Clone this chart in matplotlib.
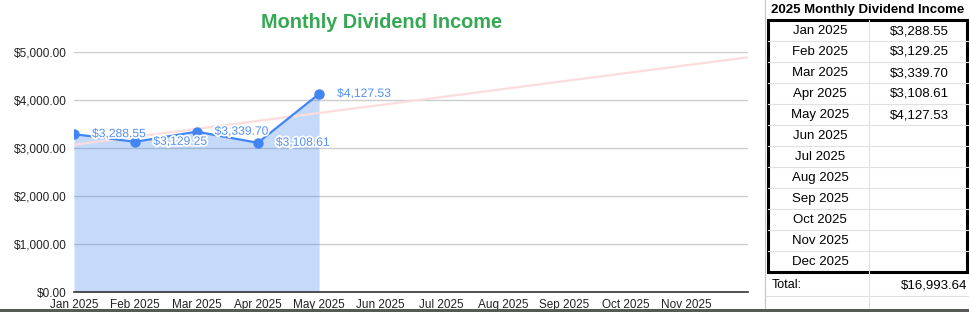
import matplotlib
matplotlib.use("Agg")
import matplotlib.pyplot as plt
import matplotlib.patheffects as pe
from matplotlib.patches import Rectangle
import numpy as np

plt.rcParams['font.family'] = ['Liberation Sans', 'DejaVu Sans']

# data
months = ["Jan 2025", "Feb 2025", "Mar 2025", "Apr 2025", "May 2025", "Jun 2025",
          "Jul 2025", "Aug 2025", "Sep 2025", "Oct 2025", "Nov 2025", "Dec 2025"]
income = [3288.55, 3129.25, 3339.70, 3108.61, 4127.53]
yticks = [0, 1000, 2000, 3000, 4000, 5000]
chart_title = "Monthly Dividend Income"
table_title = "2025 Monthly Dividend Income"

W, H = 970, 312
fig = plt.figure(figsize=(W / 100, H / 100), dpi=100)

# chart
ax = fig.add_axes([74 / W, 1 - 292 / H, (748 - 74) / W, 240 / H])
x = np.arange(len(income))
ax.fill_between(x, income, color='#4285f4', alpha=0.3, lw=0, zorder=2)

# linear trendline over the whole year
k, b = np.polyfit(x, income, 1)
xt = np.array([0, len(months) - 1])
ax.plot(xt, k * xt + b, color='#fcdcdc', lw=1.6, zorder=3)

ax.plot(x, income, color='#4285f4', lw=1.6, marker='o', ms=6.5, zorder=4)
for xi, v in zip(x, income):
    ax.annotate(f"${v:,.2f}", (xi, v), xytext=(13, 0), textcoords='offset points',
                ha='left', va='center', fontsize=8.7, color='#5590f3', zorder=5,
                path_effects=[pe.withStroke(linewidth=2.5, foreground='white')])

ax.set_xlim(0, len(months) - 1)
ax.set_ylim(0, 5000)
ax.set_yticks(yticks)
ax.set_yticklabels([f"${t:,.2f}" for t in yticks])
ax.set_xticks(range(len(months) - 1))
ax.set_xticklabels(months[:-1])
ax.tick_params(axis='y', length=0, pad=5, labelsize=8.5, labelcolor='#222222')
ax.tick_params(axis='x', length=0, pad=5, labelsize=8.5, labelcolor='#222222')
ax.yaxis.grid(True, color='#cccccc', lw=1)
ax.set_axisbelow(True)
for s in ['top', 'right', 'left']:
    ax.spines[s].set_visible(False)
ax.spines['bottom'].set_color('#333333')
ax.spines['bottom'].set_linewidth(1.2)

fig.text(382 / W, 1 - 23 / H, chart_title, ha='center', va='center',
         fontsize=14.3, fontweight='bold', color='#34a853')

# spreadsheet table on the right
tax = fig.add_axes([0, 0, 1, 1], zorder=10)
tax.set_xlim(0, W)
tax.set_ylim(H, 0)
tax.axis('off')

top, rh = 20, 21
tax.plot([765.5, 765.5], [0, 308], color='#c4c4c4', lw=0.8)
for i in range(1, len(months)):
    tax.plot([768, 968], [top + i * rh] * 2, color='#e0e0e0', lw=0.8)
tax.plot([869, 869], [top, 308], color='#e0e0e0', lw=0.8)
tax.plot([766, 970], [296, 296], color='#e0e0e0', lw=0.8)
tax.add_patch(Rectangle((768.5, top), 199, rh * len(months), fill=False,
                        edgecolor='black', lw=2.2))

tax.text(868, 9.5, table_title, ha='center', va='center', fontsize=9.5,
         fontweight='bold', color='black')
for i, m in enumerate(months):
    yc = top + i * rh + rh / 2 + 0.5
    tax.text(820, yc, m, ha='center', va='center', fontsize=9.5, color='black')
    if i < len(income):
        tax.text(919, yc, f"${income[i]:,.2f}", ha='center', va='center',
                 fontsize=9.5, color='black')
tax.text(772, 285, "Total:", ha='left', va='center', fontsize=9, color='black')
tax.text(967, 285, f"${sum(income):,.2f}", ha='right', va='center',
         fontsize=9.5, color='black')

tax.add_patch(Rectangle((0, 308.5), W, 3.5, color='#555a55', lw=0))

fig.savefig("out.png", dpi=100)
